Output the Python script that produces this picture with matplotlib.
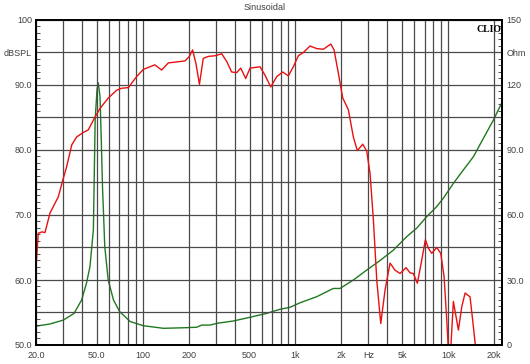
import numpy as np
import matplotlib
matplotlib.use('Agg')
import matplotlib.pyplot as plt
from matplotlib.ticker import FixedLocator, MultipleLocator

plt.rcParams['font.family'] = ['Liberation Sans', 'DejaVu Sans']

# SPL response (Hz, dB)
spl_freq = [20, 20.7, 21.9, 22.9, 24.7, 28.0, 29.5, 31.8, 34.3, 36.9, 40.8, 44.0, 47.5,
            52.5, 59.5, 67.5, 72.8, 80.5, 91.2, 100.9, 120, 133, 147, 189, 202, 212,
            223, 235, 249, 269, 297, 329, 355, 382, 412, 438, 472, 504, 586, 632, 689,
            754, 825, 898, 968, 1044, 1126, 1245, 1378, 1523, 1702, 1789, 1909, 2039,
            2219, 2393, 2541, 2758, 2929, 3078, 3237, 3405, 3617, 3861, 4162, 4487,
            4839, 5297, 5624, 5912, 6281, 6714, 7088, 7416, 7800, 8415, 8935, 9397,
            9785, 10200, 10810, 11660, 12270, 12900, 13900, 14620, 15000, 16000]
spl_db = [62.0, 67.2, 67.4, 67.3, 70.3, 72.8, 74.8, 77.5, 80.8, 82.0, 82.7, 83.1, 84.6,
          86.4, 88.0, 89.2, 89.5, 89.6, 91.3, 92.4, 93.1, 92.3, 93.4, 93.7, 94.4, 95.4,
          93.3, 90.1, 94.1, 94.4, 94.5, 94.8, 93.6, 92.0, 91.9, 92.6, 91.0, 92.6, 92.8,
          91.5, 89.7, 91.3, 92.0, 91.4, 92.8, 94.5, 95.0, 96.0, 95.6, 95.5, 96.3, 95.4,
          91.8, 88.0, 86.2, 82.0, 79.9, 80.9, 79.8, 76.4, 69.2, 60.0, 53.3, 58.5, 62.6,
          61.5, 61.0, 61.9, 61.1, 61.0, 59.5, 63.1, 66.2, 64.9, 64.1, 65.0, 64.1, 60.5,
          53.8, 46.0, 56.7, 52.3, 55.9, 58.0, 57.4, 52.8, 50.3, 45.0]

# impedance (Hz, Ohm)
imp_freq = [20, 24.7, 30.2, 35.5, 39.8, 42.8, 45.1, 47.5, 48.0, 48.8, 50.2, 51.1, 52.5,
            53.5, 54.5, 56.4, 59.4, 64.3, 70.6, 82.8, 101, 136.6, 194, 225.6, 243, 276,
            306, 393, 504, 648, 793, 921, 1072, 1378, 1601, 1770, 1957, 2393, 2929,
            3580, 4375, 5347, 6215, 7223, 8393, 9280, 10810, 12570, 14620, 17000,
            19760, 22500]
imp_ohm = [8.7, 9.7, 11.5, 14.6, 20.8, 28.5, 36.1, 53.1, 73.0, 104.0, 118.0, 121.0, 114.6,
           95.0, 73.1, 45.4, 30.0, 20.8, 15.4, 10.8, 8.9, 7.7, 8.0, 8.2, 9.2, 9.2,
           10.0, 11.1, 12.8, 14.6, 16.5, 17.4, 19.5, 22.3, 24.6, 26.1, 26.1, 30.0, 34.6,
           39.0, 43.8, 50.0, 53.9, 59.2, 63.8, 67.7, 74.6, 80.8, 86.9, 95.4,
           103.8, 112.0]

freq_labels = {20: '20.0', 50: '50.0', 100: '100', 200: '200', 500: '500', 1000: '1k',
               2000: '2k', 3000: 'Hz', 5000: '5k', 10000: '10k', 20000: '20k'}
db_labels = ['50.0', '', '60.0', '', '70.0', '', '80.0', '', '90.0', 'dBSPL', '100']
ohm_labels = ['0', '', '30.0', '', '60.0', '', '90.0', '', '120', 'Ohm', '150']

grid_freqs = [m * 10 ** d for d in range(1, 5) for m in range(1, 10)]
grid_freqs = [f for f in grid_freqs if 20 <= f <= 20000]

txt = '#404040'
fig = plt.figure(figsize=(5.3, 3.64), dpi=100)
ax = fig.add_axes([36 / 530, 19 / 364, 466 / 530, 325 / 364])
ax2 = ax.twinx()
ax.set_zorder(ax2.get_zorder() + 1)
ax.patch.set_visible(False)

ax.set_xscale('log')
ax.set_xlim(20, 22500)
ax.set_ylim(50, 100)
ax2.set_ylim(0, 150)

ax.xaxis.set_major_locator(FixedLocator(grid_freqs))
ax.xaxis.set_minor_locator(FixedLocator([]))
ax.set_xticklabels([freq_labels.get(f, '') for f in grid_freqs])
ax.tick_params(axis='x', length=0, pad=4, labelsize=6.5, labelcolor=txt)

ax.set_yticks(np.arange(50, 101, 5))
ax.set_yticklabels(db_labels)
ax.yaxis.set_minor_locator(MultipleLocator(1))
ax.tick_params(axis='y', which='major', length=0, pad=3, labelsize=6.5, labelcolor=txt)
ax.tick_params(axis='y', which='minor', direction='in', length=3, width=0.6, color='#333333')

ax2.set_yticks(np.arange(0, 151, 15))
ax2.set_yticklabels(ohm_labels)
ax2.yaxis.set_minor_locator(MultipleLocator(3))
ax2.tick_params(axis='y', which='major', length=0, pad=3, labelsize=6.5, labelcolor=txt)
ax2.tick_params(axis='y', which='minor', direction='in', length=3, width=0.6, color='#333333')

ax.grid(True, which='major', color='#4a4a4a', linewidth=0.9)

for a in (ax, ax2):
    for s in a.spines.values():
        s.set_linewidth(1.3)
        s.set_color('black')

ax2.plot(imp_freq, imp_ohm, color='#1f7a1f', linewidth=1.0, clip_on=True)
ax.plot(spl_freq, spl_db, color='#e81010', linewidth=1.0, clip_on=True)

fig.text(265 / 530, 1 - 8 / 364, 'Sinusoidal', ha='center', va='center', fontsize=6.5, color=txt)
ax.text(0.998, 0.985, 'CLIO', transform=ax.transAxes, ha='right', va='top',
        fontsize=7, fontweight='bold', family='Liberation Serif', color='black')

fig.savefig('out.png', dpi=100)
